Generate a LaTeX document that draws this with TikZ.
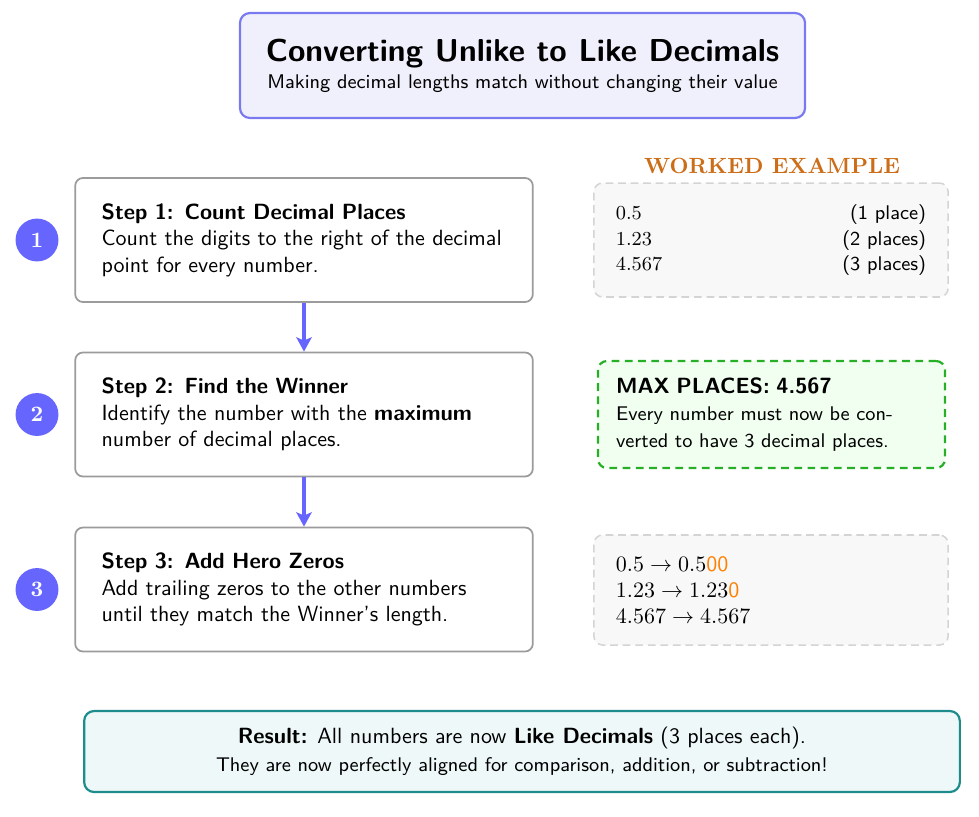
\documentclass[tikz,border=0pt]{standalone}
\usepackage{amsmath}
\usetikzlibrary{arrows.meta}
\renewcommand{\familydefault}{\sfdefault}
\definecolor{titleborder}{RGB}{122,122,240}
\definecolor{titlefill}{RGB}{240,240,252}
\definecolor{circblue}{RGB}{102,102,255}
\definecolor{stepgray}{RGB}{155,155,155}
\definecolor{exgray}{RGB}{212,212,212}
\definecolor{exfill}{RGB}{248,248,248}
\definecolor{greenborder}{RGB}{40,175,40}
\definecolor{greenfill}{RGB}{241,255,241}
\definecolor{tealborder}{RGB}{30,140,140}
\definecolor{tealfill}{RGB}{238,248,248}
\definecolor{hdrorange}{RGB}{204,110,25}
\definecolor{zeroorange}{RGB}{255,128,0}
\begin{document}
\begin{tikzpicture}[x=0.4545pt,y=-0.4545pt,
  stepbox/.style={draw=stepgray, line width=0.8pt, rounded corners=3.6pt, fill=white,
    minimum width=208pt, minimum height=56.4pt, text width=184pt, inner xsep=12pt, align=left},
  numcirc/.style={circle, fill=circblue, minimum size=19.5pt, inner sep=0pt, text=white,
    font=\rmfamily\bfseries},
  flowarrow/.style={draw=circblue, line width=1.4pt, -{Stealth[length=6.5pt,width=7pt,inset=1.5pt]}},
  exbox/.style={draw=exgray, dash pattern=on 3.5pt off 2.2pt, line width=0.7pt, fill=exfill,
    rounded corners=4pt, minimum width=160.9pt, inner xsep=10pt, align=left}]
\useasboundingbox (0,0) rectangle (979,816);

% title
\node[draw=titleborder, line width=1pt, fill=titlefill, rounded corners=4.5pt,
  minimum width=256.8pt, minimum height=47.7pt, align=center] (title) at (522.5,65.5)
  {{\Large\bfseries Converting Unlike to Like Decimals}\\[0.3pt]
   {\small Making decimal lengths match without changing their value}};

% steps
\node[stepbox] (s1) at (304,240) {\textbf{Step 1: Count Decimal Places}\\
  Count the digits to the right of the decimal\\point for every number.};
\node[stepbox] (s2) at (304,414.5) {\textbf{Step 2: Find the Winner}\\
  Identify the number with the \textbf{maximum}\\number of decimal places.};
\node[stepbox] (s3) at (304,589.5) {\textbf{Step 3: Add Hero Zeros}\\
  Add trailing zeros to the other numbers\\until they match the Winner's length.};

\node[numcirc] (c1) at (37,240) {1};
\node[numcirc] (c2) at (37,414.5) {2};
\node[numcirc] (c3) at (37,589.5) {3};

\draw[flowarrow] (s1.south) -- (s2.north);
\draw[flowarrow] (s2.south) -- (s3.north);

% worked example
\node[font=\rmfamily\bfseries, text=hdrorange] (wehdr) at (772,166) {WORKED EXAMPLE};

\node[exbox, minimum height=51.8pt] (ex1) at (771,240)
  {\fontsize{9}{11.4}\selectfont
   \begin{tabular*}{141pt}{@{}l@{\extracolsep{\fill}}r@{}}
   $0.5$ & (1 place)\\
   $1.23$ & (2 places)\\
   $4.567$ & (3 places)
   \end{tabular*}};

\node[draw=greenborder, fill=greenfill, dash pattern=on 3.5pt off 2.5pt, line width=1pt,
  rounded corners=4pt, minimum width=157.7pt, minimum height=48.6pt, text width=141.3pt,
  inner xsep=8.2pt, align=left, font=\fontsize{9}{12.2}\selectfont] (mx) at (771.5,414.5)
  {{\fontsize{10}{12.2}\selectfont\bfseries MAX PLACES: 4.567}\\
   Every number must now be con-\\verted to have 3 decimal places.};

\node[exbox, minimum height=50pt, text width=141pt, font=\fontsize{10}{11.6}\selectfont] (ex3) at (771,590)
  {$0.5\rightarrow 0.5\textcolor{zeroorange}{\text{00}}$\\
   $1.23\rightarrow 1.23\textcolor{zeroorange}{\text{0}}$\\
   $4.567\rightarrow 4.567$};

% result
\node[draw=tealborder, fill=tealfill, line width=1pt, rounded corners=4.5pt,
  minimum width=398pt, minimum height=36.8pt, align=center] (res) at (522,751.5)
  {\textbf{Result:} All numbers are now \textbf{Like Decimals} (3 places each).\\[0.7pt]
   {\small They are now perfectly aligned for comparison, addition, or subtraction!}};
\end{tikzpicture}
\end{document}
